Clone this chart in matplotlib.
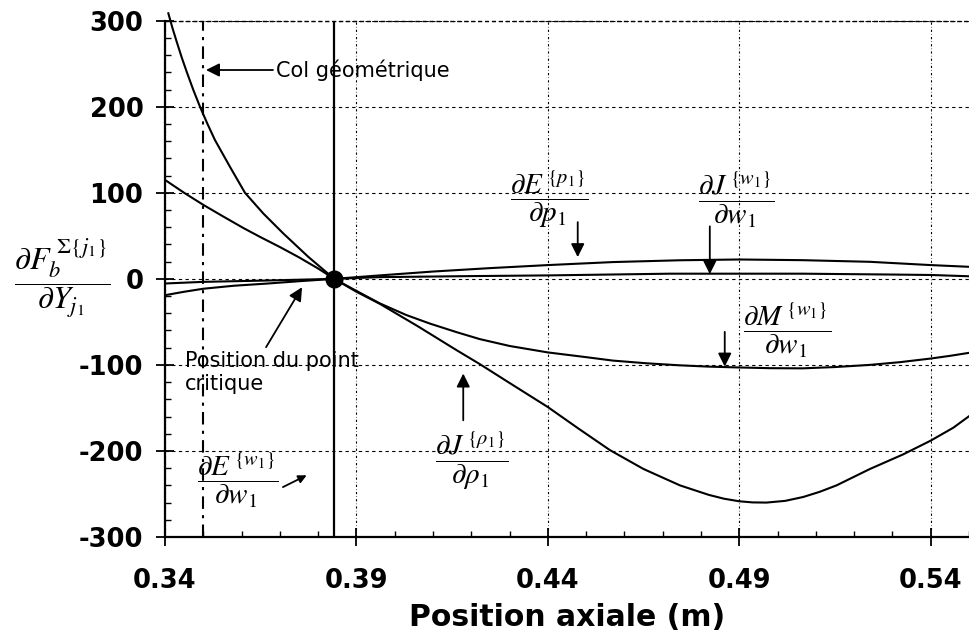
import matplotlib
matplotlib.use("Agg")
import matplotlib.pyplot as plt
from matplotlib.ticker import FixedLocator, MultipleLocator, FixedFormatter

plt.rcParams['axes.unicode_minus'] = False
plt.rcParams['mathtext.fontset'] = 'stix'
plt.rcParams['font.family'] = ['DejaVu Sans']

# ---------------- data ----------------
x_crit = 0.3842          # position du point critique
x_col = 0.35             # col géométrique

# curve A : steep branch left of the critical point, then dM/dw1 branch
a_left_x = [0.34087, 0.34195, 0.34305, 0.34435, 0.34566, 0.3474, 0.34914, 0.3511,
            0.35305, 0.35697, 0.36089, 0.36567, 0.37089, 0.37742, 0.3842]
a_left_y = [308.6, 291.5, 275.6, 257.5, 240.7, 219.5, 200.0, 180.0,
            161.3, 130.2, 100.0, 76.0, 52.8, 25.6, 0.0]
m_x = [0.3842, 0.39, 0.3961, 0.403, 0.4092, 0.4162, 0.4222, 0.43, 0.44, 0.45,
       0.457, 0.466, 0.4745, 0.482, 0.49, 0.498, 0.5066, 0.515, 0.5241, 0.532,
       0.54, 0.545, 0.55]
m_y = [0.0, -14.0, -28.5, -42.0, -52.0, -62.0, -70.0, -78.0, -85.5, -91.0,
       -95.0, -98.2, -100.5, -102.0, -103.0, -103.8, -104.0, -102.5, -100.0, -96.8,
       -92.6, -89.5, -86.0]

# curve B : 115 at the left, then dJ/drho1 deep dip
b_left_x = [0.34, 0.345, 0.35, 0.355, 0.3605, 0.3648, 0.37, 0.375, 0.38, 0.3842]
b_left_y = [115.0, 100.0, 86.0, 73.0, 59.0, 48.8, 37.0, 25.0, 12.0, 0.0]
dip_x = [0.3842, 0.39, 0.3961, 0.406, 0.4162, 0.4222, 0.43, 0.44, 0.448, 0.4562,
         0.465, 0.4745, 0.482, 0.486, 0.49, 0.4935, 0.4971, 0.502, 0.5067, 0.511,
         0.5154, 0.5241, 0.5328, 0.54, 0.5459, 0.5499]
dip_y = [0.0, -15.0, -29.0, -55.0, -83.0, -99.0, -121.0, -149.0, -174.0, -199.0,
         -221.0, -240.0, -251.0, -255.5, -258.5, -259.8, -260.0, -258.0, -253.5, -247.5,
         -240.0, -221.0, -204.0, -188.0, -173.0, -160.0]

# curve C : slightly negative at left, dJ/dw1 bump at right
c_x = [0.34, 0.345, 0.35, 0.358, 0.3666, 0.3752, 0.3842, 0.3961, 0.41, 0.425,
       0.44, 0.457, 0.4745, 0.49, 0.5066, 0.5241, 0.54, 0.55]
c_y = [-19.0, -15.0, -11.5, -8.0, -5.5, -2.7, 0.0, 4.0, 8.5, 12.5,
       16.0, 19.5, 21.6, 22.5, 21.7, 19.8, 16.0, 14.0]

# curve D : nearly flat
d_x = [0.34, 0.35, 0.366, 0.3842, 0.3961, 0.42, 0.44, 0.4719, 0.5066, 0.53, 0.54, 0.55]
d_y = [-5.4, -3.5, -2.0, 0.0, 2.0, 3.2, 4.0, 6.0, 6.0, 5.0, 4.5, 3.0]

x_ticks = [0.34, 0.39, 0.44, 0.49, 0.54]
x_tick_labels = ["0.34", "0.39", "0.44", "0.49", "0.54"]
y_ticks = [-300, -200, -100, 0, 100, 200, 300]
y_tick_labels = ["-300", "-200", "-100", "0", "100", "200", "300"]

# ---------------- figure ----------------
fig = plt.figure(figsize=(9.69, 6.36), dpi=100)
ax = fig.add_axes([165 / 969, 1 - 537 / 636, 1 - 165 / 969, (537 - 20.7) / 636])
ax.set_xlim(0.34, 0.55)
ax.set_ylim(-300, 300)

for s in ("top", "right"):
    ax.spines[s].set_visible(False)
for s in ("left", "bottom"):
    ax.spines[s].set_linewidth(1.6)

ax.xaxis.set_major_locator(FixedLocator(x_ticks))
ax.xaxis.set_major_formatter(FixedFormatter(x_tick_labels))
ax.yaxis.set_major_locator(FixedLocator(y_ticks))
ax.yaxis.set_major_formatter(FixedFormatter(y_tick_labels))
ax.xaxis.set_minor_locator(MultipleLocator(0.01))
ax.yaxis.set_minor_locator(MultipleLocator(20))

ax.tick_params(which="major", direction="inout", length=13, width=1.3,
               labelsize=18.5, colors="black")
ax.tick_params(which="minor", direction="in", length=4.5, width=1.0)
ax.tick_params(axis="x", which="major", pad=16)
ax.tick_params(axis="y", which="major", pad=9)
for lab in ax.get_xticklabels() + ax.get_yticklabels():
    lab.set_fontweight("bold")

# grid
ax.yaxis.grid(True, which="major", linestyle=(0, (3, 3)), color="black", lw=0.8)
ax.xaxis.grid(True, which="major", linestyle=(0, (2, 2, 0.5, 2)), color="black", lw=0.8)
ax.axhline(300, linestyle=(0, (3, 2)), color="black", lw=1.0, clip_on=False)

# vertical reference lines
ax.axvline(x_col, color="black", lw=1.5, linestyle=(0, (6, 3, 1.5, 3)))
ax.axvline(x_crit, color="black", lw=1.6)

# curves
lw = 1.5
ax.plot(a_left_x, a_left_y, color="black", lw=lw, clip_on=False)
ax.plot(m_x, m_y, color="black", lw=lw)
ax.plot(b_left_x, b_left_y, color="black", lw=lw)
ax.plot(dip_x, dip_y, color="black", lw=lw)
ax.plot(c_x, c_y, color="black", lw=lw)
ax.plot(d_x, d_y, color="black", lw=lw)

ax.plot([x_crit], [0], "o", color="black", markersize=12, zorder=5)

# annotations
arrow_kw = dict(arrowstyle="-|>", color="black", lw=1.3, mutation_scale=20,
                shrinkA=0, shrinkB=0)

ax.annotate("", xy=(0.3507, 242.7), xytext=(0.3682, 242.7), arrowprops=arrow_kw)
ax.text(0.369, 242.7, "Col géométrique", fontsize=15, ha="left", va="center")

ax.annotate("", xy=(0.3758, -9.7), xytext=(0.3664, -79.4), arrowprops=arrow_kw)
ax.text(0.3452, -108.6, "Position du point\ncritique", fontsize=15, ha="left",
        va="center", linespacing=1.2)

math_fs = 21
ax.annotate("", xy=(0.4478, 25.2), xytext=(0.4478, 65.9), arrowprops=arrow_kw)
ax.text(0.4403, 92.3, r"$\dfrac{\partial E^{\,\{p_1\}}}{\partial p_1}$",
        fontsize=math_fs, ha="center", va="center")

ax.annotate("", xy=(0.4823, 5.5), xytext=(0.4823, 61.0), arrowprops=arrow_kw)
ax.text(0.4892, 92.3, r"$\dfrac{\partial J^{\,\{w_1\}}}{\partial w_1}$",
        fontsize=math_fs, ha="center", va="center")

ax.annotate("", xy=(0.4862, -102.0), xytext=(0.4862, -61.6), arrowprops=arrow_kw)
ax.text(0.5025, -59.7, r"$\dfrac{\partial M^{\,\{w_1\}}}{\partial w_1}$",
        fontsize=math_fs, ha="center", va="center")

ax.annotate("", xy=(0.4179, -110.0), xytext=(0.4179, -164.4), arrowprops=arrow_kw)
ax.text(0.4201, -210.8, r"$\dfrac{\partial J^{\,\{\rho_1\}}}{\partial \rho_1}$",
        fontsize=math_fs, ha="center", va="center")

ax.annotate("", xy=(0.3770, -228.3), xytext=(0.3708, -242.0),
            arrowprops=dict(arrowstyle="-|>", color="black", lw=1.3,
                            mutation_scale=12, shrinkA=0, shrinkB=0))
ax.text(0.3591, -234.0, r"$\dfrac{\partial E^{\,\{w_1\}}}{\partial w_1}$",
        fontsize=math_fs, ha="center", va="center")

# y label (fraction)
fig.text(62 / 969, 1 - 278 / 636,
         r"$\dfrac{\partial F_b^{\;\Sigma\{j_1\}}}{\partial Y_{j_1}}$",
         fontsize=23, ha="center", va="center")

ax.set_xlabel("Position axiale (m)", fontsize=21.5, fontweight="bold", labelpad=6)

fig.savefig("out.png", dpi=100)
